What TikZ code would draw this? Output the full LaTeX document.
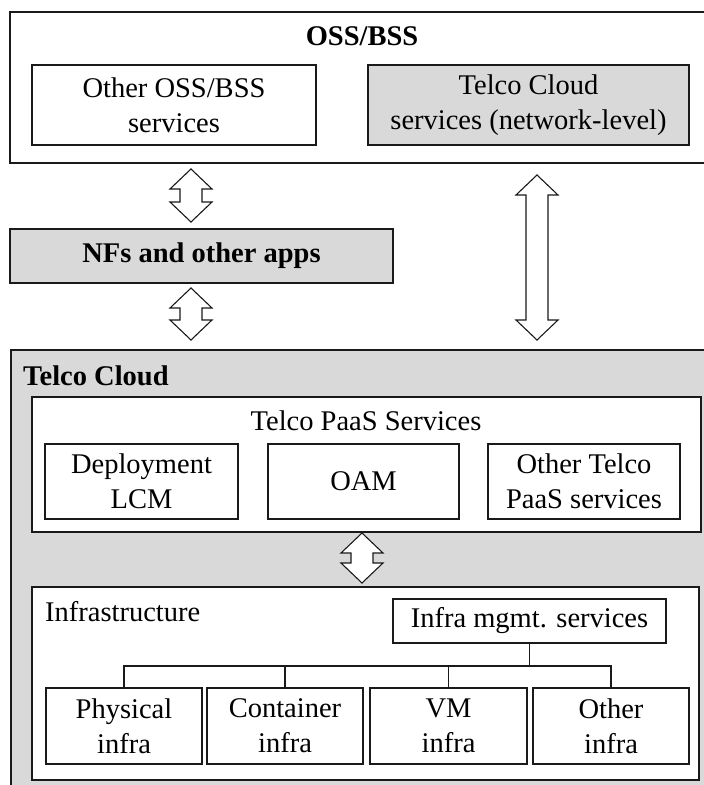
\documentclass[tikz,border=0pt]{standalone}
\usepackage{fontspec}
\setmainfont{Liberation Serif}
\usetikzlibrary{calc}
\newcommand\dfs{\fontsize{28.5}{35}\selectfont}
\definecolor{cgray}{HTML}{D9D9D9}
\definecolor{cline}{HTML}{1A1A1A}
\newcommand\blockarrow[3]{%
  \draw[arr] (#1,#2) -- ++(21,20) -- ++(-10,0) -- (#1+11,#3-20) -- ++(10,0) -- (#1,#3)
    -- ++(-21,-20) -- ++(10,0) -- (#1-11,#2+20) -- ++(-10,0) -- cycle;}
\tikzset{
  box/.style={draw=cline, line width=1.2pt, inner sep=0pt, align=center, font=\dfs},
  gbox/.style={box, fill=cgray},
  lbl/.style={inner sep=0pt, font=\dfs\bfseries},
  txt/.style={inner sep=0pt, font=\dfs},
  arr/.style={draw=cline, line width=1.1pt, fill=white, line join=miter},
  tree/.style={draw=cline, line width=1.9pt}
}
\begin{document}
\begin{tikzpicture}[x=1pt, y=-1pt]
\useasboundingbox (0,0) rectangle (704,785);
\fill[white] (0,0) rectangle (704,785);
\clip (0,0) rectangle (704,785);

% OSS/BSS
\node[box, minimum width=702, minimum height=151] (oss) at (361,87.5) {};
\node[lbl] (osslbl) at (362,36) {OSS/BSS};
\node[box, minimum width=284, minimum height=80] (other) at (174,105) {Other OSS/BSS\\services};
\node[gbox, minimum width=321, minimum height=80] (tcs) at (528.5,105) {Telco Cloud\\services (network-level)};

% NFs
\node[gbox, minimum width=383, minimum height=54, font=\dfs\bfseries] (nfs) at (201.5,256) {NFs and other apps};

% Telco Cloud
\node[gbox, minimum width=702, minimum height=450] (tc) at (362,575) {};
\node[lbl, anchor=west] (tclbl) at (23,376) {Telco Cloud};

% PaaS
\node[box, fill=white, minimum width=669, minimum height=135] (paas) at (366.5,464.5) {};
\node[txt] (paaslbl) at (366,421) {Telco PaaS Services};
\node[box, minimum width=193, minimum height=75] (dep) at (141.5,481.5) {Deployment\\LCM};
\node[box, minimum width=191, minimum height=75] (oam) at (363.5,481.5) {OAM};
\node[box, minimum width=192, minimum height=75] (otp) at (584,481.5) {Other Telco\\PaaS services};

% Infrastructure
\node[box, fill=white, minimum width=667, minimum height=193] (infra) at (365.5,683.5) {};
\node[txt, anchor=west] (infralbl) at (45,612) {Infrastructure};
\node[box, minimum width=273, minimum height=44] (mgmt) at (529.5,621) {Infra mgmt. services};
\node[box, minimum width=156, minimum height=76] (phys) at (124,726) {Physical\\infra};
\node[box, minimum width=156, minimum height=76] (cont) at (285,726) {Container\\infra};
\node[box, minimum width=157, minimum height=76] (vm) at (448.5,726) {VM\\infra};
\node[box, minimum width=156, minimum height=76] (oth) at (611,726) {Other\\infra};

% tree
\coordinate (bus) at (0,666);
\draw[tree] (mgmt.south) -- (mgmt.south |- bus);
\draw[tree] (phys.north) -- (phys.north |- bus) -- (oth.north |- bus) -- (oth.north);
\draw[tree] (cont.north) -- (cont.north |- bus);
\draw[tree] (vm.north) -- (vm.north |- bus);

% block arrows
\blockarrow{191}{169}{222}
\blockarrow{191}{288}{340}
\blockarrow{362}{533}{583}
\blockarrow{537}{175}{340}
\end{tikzpicture}
\end{document}
